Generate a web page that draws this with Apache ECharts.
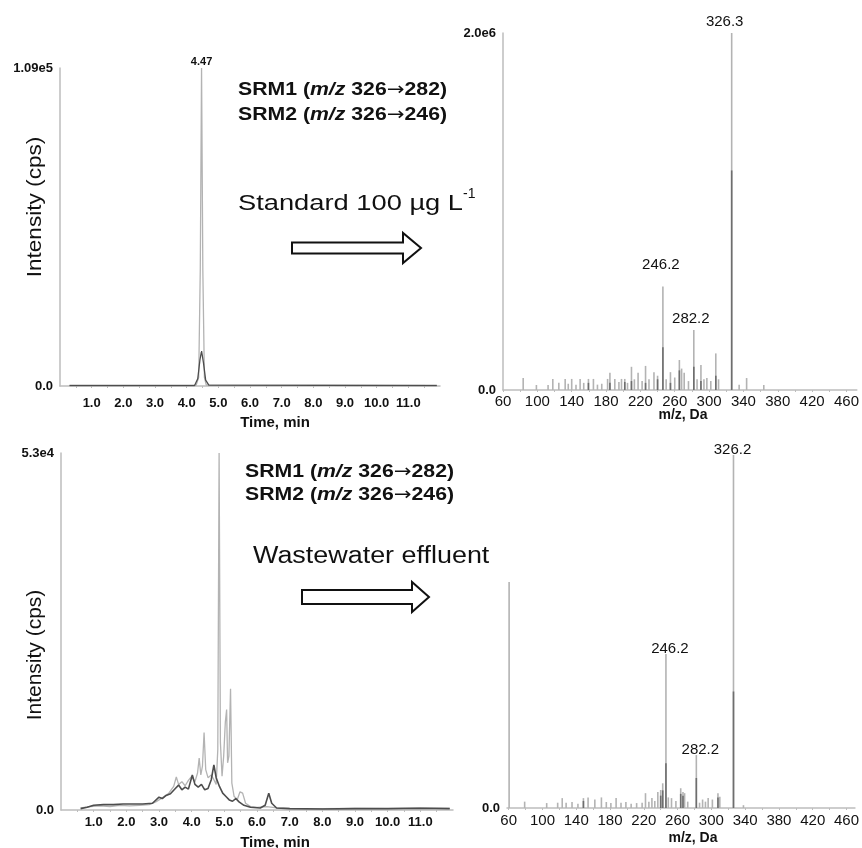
<!DOCTYPE html>
<html>
<head>
<meta charset="utf-8">
<script src="https://cdn.jsdelivr.net/npm/echarts@6/dist/echarts.min.js"></script>
<style>
  html, body { margin: 0; padding: 0; background: #fff; }
  #chart { width: 862px; height: 848px; }
</style>
</head>
<body>
<div id="chart"></div>
<script>
// tick labels
const timeTicks = [1, 2, 3, 4, 5, 6, 7, 8, 9, 10, 11];
const timeMinorTicks = [0.5, 1, 1.5, 2, 2.5, 3, 3.5, 4, 4.5, 5, 5.5, 6, 6.5, 7, 7.5, 8, 8.5, 9, 9.5, 10, 10.5, 11, 11.5];
const mzTicks = [60, 100, 140, 180, 220, 260, 300, 340, 380, 420, 460];
const mzMinorTicks = [60, 80, 100, 120, 140, 160, 180, 200, 220, 240, 260, 280, 300, 320, 340, 360, 380, 400, 420, 440, 460];

// standard 100 ug/L : chromatogram [time min, cps]
const stdSrm1 = [[0.3, 250], [2.0, 300], [4.0, 250], [4.30, 300], [4.38, 3000], [4.43, 40000], [4.47, 109000],
  [4.51, 40000], [4.56, 3000], [4.62, 300], [6.0, 250], [8.0, 300], [10.0, 250], [11.9, 300]];
const stdSrm2 = [[0.3, 150], [4.25, 150], [4.35, 2500], [4.42, 9000], [4.47, 12000], [4.53, 8000],
  [4.60, 2000], [4.70, 300], [11.9, 150]];

// wastewater effluent : chromatogram [time min, cps]
const effSrm1 = [[0.6, 300], [0.9, 500], [1.2, 600], [1.5, 500], [1.8, 700], [2.1, 600], [2.4, 700], [2.7, 800],
  [2.9, 1200], [3.1, 1800], [3.3, 2500], [3.45, 3500], [3.53, 4900], [3.6, 3800], [3.7, 4200], [3.8, 3600],
  [3.9, 4400], [4.0, 5000], [4.1, 4200], [4.18, 5500], [4.23, 7700], [4.28, 5200], [4.33, 6500], [4.38, 11500],
  [4.43, 6000], [4.5, 4800], [4.6, 5200], [4.68, 4500], [4.75, 3800], [4.80, 9000], [4.84, 53000], [4.88, 10000],
  [4.93, 5000], [4.98, 8000], [5.03, 13000], [5.07, 14900], [5.10, 7000], [5.14, 8000], [5.19, 18000],
  [5.23, 4000], [5.3, 2000], [5.4, 1600], [5.48, 2700], [5.56, 2500], [5.65, 1000], [5.8, 500], [6.0, 400],
  [6.3, 500], [6.6, 300], [7.0, 250], [8.0, 200], [9.0, 250], [10.0, 200], [11.0, 300], [11.9, 250]];
const effSrm2 = [[0.6, 200], [0.8, 400], [1.0, 700], [1.3, 800], [1.6, 800], [1.9, 900], [2.2, 900], [2.5, 900],
  [2.8, 1000], [3.0, 1900], [3.1, 1700], [3.2, 2100], [3.35, 2400], [3.5, 3200], [3.6, 3700], [3.7, 3000],
  [3.8, 3400], [3.9, 3100], [4.02, 5200], [4.1, 3800], [4.2, 3400], [4.3, 3800], [4.4, 3000], [4.5, 3200],
  [4.6, 4500], [4.68, 6700], [4.75, 4800], [4.85, 3500], [4.95, 2500], [5.05, 2000], [5.15, 1500], [5.25, 1300],
  [5.35, 1700], [5.45, 1200], [5.6, 700], [5.8, 400], [6.1, 300], [6.25, 700], [6.36, 2500], [6.45, 1000],
  [6.6, 300], [7.0, 200], [8.0, 150], [9.0, 200], [10.0, 200], [11.0, 250], [11.9, 200]];

// standard : product ion spectrum [m/z, cps]
const stdSpectrum = [[83.5, 67000], [98.9, 28000], [112.5, 28000], [118, 62000], [125, 40000], [132.4, 62000],
  [136, 35000], [140, 62000], [145, 30000], [149.8, 62000], [154, 40000], [159.5, 62000], [165.3, 62000],
  [170, 30000], [175, 35000], [181.8, 62000], [184.5, 97000], [190.2, 62000], [195, 45000], [198, 62000],
  [201.8, 62000], [205, 40000], [209.6, 130000], [213, 60000], [217.3, 97000], [222, 50000], [226, 135000],
  [230, 60000], [235.8, 100000], [240, 80000], [246.2, 580000], [250, 60000], [255, 100000], [260, 70000],
  [265.4, 168000], [268, 120000], [271, 97000], [276, 50000], [282.2, 336000], [286, 60000], [290.5, 140000],
  [294, 60000], [297.4, 67000], [302, 50000], [307.8, 205000], [311, 60000], [326.3, 2000000], [335, 30000],
  [343.7, 67000], [363.7, 28000]];
const stdSpectrumCore = [[159.5, 40000], [184.5, 40000], [201.8, 45000], [209.6, 50000], [226, 40000],
  [240, 60000], [246.2, 240000], [255, 40000], [265.4, 110000], [282.2, 130000], [290.5, 50000],
  [307.8, 80000], [326.3, 1230000]];
const stdLabels = [246.2, 282.2, 326.3];

// effluent : product ion spectrum [m/z, cps]
const effSpectrum = [[60.5, 64000], [78.9, 1800], [105, 1400], [118, 1500], [123.4, 2800], [128, 1500],
  [135, 1700], [142, 1200], [148.5, 2800], [154, 3000], [162, 2400], [169.8, 3000], [175.6, 1700], [181, 1400],
  [187.2, 2800], [193, 1500], [198.8, 1700], [205, 1200], [211.5, 1400], [218, 1500], [222, 4200], [226, 1800],
  [229.6, 2800], [233, 2000], [236.6, 4500], [240, 5100], [242.4, 7000], [246.2, 43600], [249, 3000],
  [252.8, 2800], [258, 2000], [263.7, 5600], [266.4, 4500], [268.3, 4200], [272, 1800], [282.2, 15000],
  [286, 1500], [289.6, 2400], [293, 1800], [296.2, 2800], [301.2, 2400], [307.8, 4200], [310, 3200],
  [326.2, 100000], [338, 800]];
const effSpectrumCore = [[148.5, 2000], [240, 3500], [242.4, 5000], [246.2, 12700], [263.7, 4000],
  [266.4, 3500], [282.2, 8500], [307.8, 3000], [326.2, 33000]];
const effLabels = [246.2, 282.2, 326.2];

const font = 'Liberation Sans, Arial, sans-serif';
const axisGrey = '#bdbdbd';
const lightGrey = '#b3b3b3';
const darkGrey = '#4d4d4d';

// label nudges [dx, distance] per labelled peak
const stdLabelPos = { 246.2: [-2, 14], 282.2: [-3, 4], 326.3: [-7, 4] };
const effLabelPos = { 246.2: [4, -2], 282.2: [4, -2], 326.2: [-1, -2] };

function timeAxis(gridIndex, labelMargin) {
  return {
    gridIndex: gridIndex, type: 'value', min: 0, max: 12,
    axisLine: { lineStyle: { color: axisGrey, width: 1.5 } },
    axisTick: { show: true, customValues: timeMinorTicks, length: 2, lineStyle: { color: axisGrey } },
    axisLabel: { customValues: timeTicks, formatter: v => v.toFixed(1), margin: labelMargin,
      color: '#111', fontFamily: font, fontWeight: 'bold', fontSize: 13 },
    splitLine: { show: false }
  };
}
function mzAxis(gridIndex, min, max, labelMargin) {
  return {
    gridIndex: gridIndex, type: 'value', min: min, max: max,
    axisLine: { lineStyle: { color: axisGrey, width: 1.5 } },
    axisTick: { show: true, customValues: mzMinorTicks, length: 2, lineStyle: { color: axisGrey } },
    axisLabel: { customValues: mzTicks, formatter: v => String(v), margin: labelMargin,
      color: '#111', fontFamily: font, fontSize: 15 },
    splitLine: { show: false }
  };
}
function intensityAxis(gridIndex, max, values, digits, showLine) {
  return {
    gridIndex: gridIndex, type: 'value', min: 0, max: max,
    axisLine: { show: showLine, lineStyle: { color: axisGrey, width: 1.5 } },
    axisTick: { show: false },
    axisLabel: { customValues: values, margin: 7, color: '#111', fontFamily: font, fontWeight: 'bold', fontSize: 13,
      formatter: v => v === 0 ? '0.0' : v.toExponential(digits).replace('+', '') },
    splitLine: { show: false }
  };
}

function peakData(list, labels, pos) {
  return list.map(p => {
    if (labels.indexOf(p[0]) < 0) return p;
    const nudge = pos[p[0]];
    return { value: p, label: { show: true, position: 'top', offset: [nudge[0], 0], distance: nudge[1],
      formatter: q => q.value[0].toFixed(1), color: '#111', fontFamily: font, fontSize: 15 } };
  });
}
function apexMark(list) {
  let top = list[0];
  list.forEach(p => { if (p[1] > top[1]) top = p; });
  return { symbol: 'circle', symbolSize: 0, silent: true, animation: false,
    label: { show: true, position: 'top', distance: 1, color: '#111', fontFamily: font, fontWeight: 'bold', fontSize: 11 },
    data: [{ coord: top, value: top[0].toFixed(2) }] };
}

function lineSeries(idx, data, color, width, mark) {
  const s = { type: 'line', xAxisIndex: idx, yAxisIndex: idx, data: data, showSymbol: false, symbol: 'none',
    lineStyle: { color: color, width: width }, itemStyle: { color: color }, animation: false, silent: true };
  if (mark) s.markPoint = mark;
  return s;
}
function barSeries(idx, data, color, width) {
  return { type: 'bar', xAxisIndex: idx, yAxisIndex: idx, data: data, barWidth: width, barGap: '-100%',
    itemStyle: { color: color }, animation: false, silent: true };
}

// text in the figure is drawn wider than the fonts' own proportions
function txt(x, y, text, size, weight, align, extra) {
  return Object.assign({ type: 'text', x: x, y: y, style: { text: text, fontFamily: font, fontSize: size,
    fontWeight: weight, fill: '#111', align: align, textAlign: align, verticalAlign: 'middle',
    textVerticalAlign: 'middle' } }, extra || {});
}
function srmText(x, y, name, transition) {
  const b = { fontFamily: font, fontSize: 18, fontWeight: 'bold', fill: '#111' };
  const parts = transition.split('→');
  return { type: 'text', x: x, y: y, scaleX: 1.18,
    style: { text: '{b|' + name + ' (}{i|m/z}{b| ' + parts[0] + '}{a|→}{b|' + parts[1] + ')}',
      verticalAlign: 'middle', textVerticalAlign: 'middle',
      rich: { b: b, i: Object.assign({}, b, { fontStyle: 'italic' }),
        a: Object.assign({}, b, { fontFamily: 'DejaVu Sans', fontWeight: 'normal' }) } } };
}
function arrow(x0, x1, x2, yc, shaft, head) {
  return { type: 'polygon', shape: { points: [[x0, yc - shaft], [x1, yc - shaft], [x1, yc - head], [x2, yc],
    [x1, yc + head], [x1, yc + shaft], [x0, yc + shaft]] },
    style: { fill: '#fff', stroke: '#111', lineWidth: 2 } };
}

const chart = echarts.init(document.getElementById('chart'), null, { renderer: 'canvas' });
chart.setOption({
  backgroundColor: '#fff',
  animation: false,
  grid: [
    { left: 60, top: 68, width: 380, height: 318 },
    { left: 503, top: 33, width: 359, height: 357 },
    { left: 61, top: 453, width: 392, height: 357 },
    { left: 507, top: 455, width: 355, height: 353 }
  ],
  xAxis: [timeAxis(0, 11), mzAxis(1, 60, 472, 4), timeAxis(2, 6), mzAxis(3, 58, 470, 5)],
  yAxis: [
    intensityAxis(0, 109000, [0, 109000], 2, true),
    intensityAxis(1, 2000000, [0, 2000000], 1, true),
    intensityAxis(2, 53000, [0, 53000], 1, true),
    intensityAxis(3, 100000, [0], 1, false)
  ],
  series: [
    lineSeries(0, stdSrm1, lightGrey, 1.3, apexMark(stdSrm1)),
    lineSeries(0, stdSrm2, darkGrey, 1.3),
    barSeries(1, peakData(stdSpectrum, stdLabels, stdLabelPos), lightGrey, 1.6),
    barSeries(1, stdSpectrumCore, '#6e6e6e', 1.6),
    lineSeries(2, effSrm1, lightGrey, 1.3),
    lineSeries(2, effSrm2, darkGrey, 1.6),
    barSeries(3, peakData(effSpectrum, effLabels, effLabelPos), lightGrey, 1.6),
    barSeries(3, effSpectrumCore, '#6e6e6e', 1.6)
  ],
  graphic: [
    txt(35, 207, 'Intensity (cps)', 20, 'normal', 'center', { rotation: Math.PI / 2, scaleX: 1.13 }),
    txt(35, 655, 'Intensity (cps)', 20, 'normal', 'center', { rotation: Math.PI / 2, scaleX: 1.05 }),
    srmText(238, 90, 'SRM1', '326→282'),
    srmText(238, 115, 'SRM2', '326→246'),
    srmText(245, 472, 'SRM1', '326→282'),
    srmText(245, 495, 'SRM2', '326→246'),
    txt(238, 204, 'Standard 100 µg L', 22, 'normal', 'left', { scaleX: 1.24 }),
    txt(463, 194, '-1', 14, 'normal', 'left'),
    txt(253, 557, 'Wastewater effluent', 23, 'normal', 'left', { scaleX: 1.17 }),
    arrow(292, 403, 421, 248, 5.5, 15),
    arrow(302, 412, 429, 597, 7, 15),
    txt(275, 423, 'Time, min', 15, 'bold', 'center'),
    txt(275, 843, 'Time, min', 15, 'bold', 'center'),
    txt(683, 415, 'm/z, Da', 14, 'bold', 'center'),
    txt(693, 838, 'm/z, Da', 14, 'bold', 'center')
  ]
});
</script>
</body>
</html>
